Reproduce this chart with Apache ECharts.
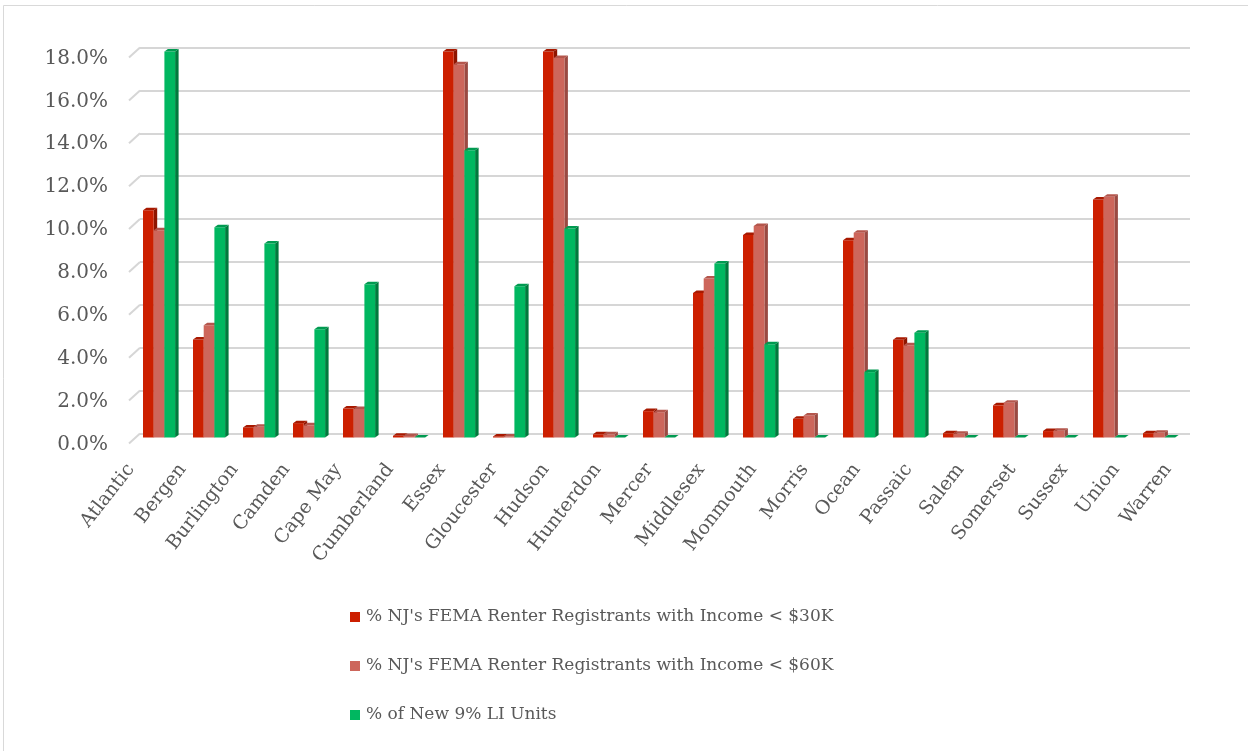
<!DOCTYPE html>
<html>
<head>
<meta charset="utf-8">
<script src="https://cdn.jsdelivr.net/npm/echarts@6/dist/echarts.min.js"></script>
<style>html,body{margin:0;padding:0;background:#fff;}#c{width:1248px;height:751px;}</style>
</head>
<body>
<div id="c"></div>
<script>
const categories = ['Atlantic','Bergen','Burlington','Camden','Cape May','Cumberland','Essex','Gloucester','Hudson','Hunterdon','Mercer','Middlesex','Monmouth','Morris','Ocean','Passaic','Salem','Somerset','Sussex','Union','Warren'];
const seriesNames = ["% NJ's FEMA Renter Registrants with Income < $30K", "% NJ's FEMA Renter Registrants with Income < $60K", "% of New 9% LI Units"];
const income30 = [10.6, 4.57, 0.47, 0.67, 1.35, 0.08, 18.0, 0.05, 18.0, 0.15, 1.23, 6.74, 9.44, 0.87, 9.2, 4.56, 0.2, 1.5, 0.3, 11.1, 0.2];
const income60 = [9.67, 5.23, 0.5, 0.57, 1.33, 0.07, 17.4, 0.05, 17.7, 0.15, 1.18, 7.41, 9.86, 1.03, 9.55, 4.3, 0.17, 1.62, 0.32, 11.23, 0.22];
const newUnits = [18.0, 9.8, 9.05, 5.05, 7.15, 0, 13.4, 7.05, 9.75, 0, 0, 8.11, 4.35, 0, 3.05, 4.89, 0, 0, 0, 0, 0];
const yTicks = [0, 2, 4, 6, 8, 10, 12, 14, 16, 18];

const FONT = 'DejaVu Serif';
const TXT = '#595959';
const palettes = [
  {front:'#CC1F00', side:'#8E1500', top:'#A81900'},
  {front:'#CD665B', side:'#9A4A42', top:'#B4564C'},
  {front:'#00B760', side:'#007A3D', top:'#009A50'}
];

function makeRender(idx) {
  const p = palettes[idx];
  return function (params, api) {
    const cat = api.value(0), v = api.value(1);
    const c = api.coord([cat, v]);
    const b = api.coord([cat, 0]);
    const bw = api.size([1, 0])[0];
    const barW = bw * 0.214;
    const x = c[0] - bw * 0.44 + idx * barW;
    const shift = 4;
    const top = c[1] + shift, bot = b[1] + shift;
    const dx = 3.5, dy = 2.5;
    return {
      type: 'group',
      children: [
        {type: 'polygon', shape: {points: [[x + barW, top], [x + barW + dx, top - dy], [x + barW + dx, bot - dy], [x + barW, bot]]}, style: {fill: p.side}},
        {type: 'rect', shape: {x: x, y: top, width: barW, height: bot - top}, style: {fill: p.front}},
        {type: 'polygon', shape: {points: [[x, top], [x + dx, top - dy], [x + barW + dx, top - dy], [x + barW, top]]}, style: {fill: p.top}}
      ]
    };
  };
}

const series = [income30, income60, newUnits].map((arr, i) => ({
  type: 'custom',
  name: seriesNames[i],
  renderItem: makeRender(i),
  itemStyle: {color: palettes[i].front},
  encode: {x: 0, y: 1},
  xAxisIndex: 0, yAxisIndex: 0,
  data: arr.map((v, k) => [k, v]),
  z: 3
}));

// perspective stubs at the left of each gridline
series.push({
  type: 'custom',
  name: 'stubs',
  silent: true,
  xAxisIndex: 0, yAxisIndex: 0,
  renderItem: function (params, api) {
    const cs = params.coordSys;
    const y = api.coord([0, api.value(1)])[1];
    return {type: 'line', shape: {x1: cs.x - 11, y1: y + 10, x2: cs.x, y2: y}, style: {stroke: '#d6d6d6', lineWidth: 2}};
  },
  encode: {x: 0, y: 1},
  data: yTicks.map(t => [0, t]),
  z: 1
});

const chart = echarts.init(document.getElementById('c'));
chart.setOption({
  animation: false,
  backgroundColor: '#fff',
  graphic: [{type: 'rect', shape: {x: 3.5, y: 5.5, width: 1300, height: 800}, style: {fill: 'none', stroke: '#d9d9d9', lineWidth: 1}, silent: true, z: -1}],
  grid: [
    {left: 140, right: 58, top: 47.5, height: 386, containLabel: false},
    {left: 132, right: 27, top: 47.5, height: 378, containLabel: false}
  ],
  legend: {
    data: seriesNames,
    orient: 'vertical',
    left: 345, top: 602,
    icon: 'rect', itemWidth: 10, itemHeight: 10, itemGap: 29,
    textStyle: {fontFamily: FONT, fontSize: 17, color: TXT, lineHeight: 20, padding: [0, 0, 0, 1]}
  },
  xAxis: [
    {
      type: 'category', gridIndex: 0,
      data: categories,
      axisLine: {show: false}, axisTick: {show: false}, axisLabel: {show: false}
    },
    {
      type: 'category', gridIndex: 1,
      data: categories,
      axisLine: {show: false}, axisTick: {show: false}, splitLine: {show: false},
      axisLabel: {interval: 0, rotate: 52, margin: 6, fontFamily: FONT, fontSize: 19, color: TXT, padding: [0, 44, 0, 0]}
    }
  ],
  yAxis: [
    {
      type: 'value', gridIndex: 0, min: 0, max: 18, interval: 2,
      axisLine: {show: false}, axisTick: {show: false},
      splitLine: {lineStyle: {color: '#d6d6d6', width: 2}},
      axisLabel: {margin: 32, fontFamily: FONT, fontSize: 20, color: TXT, verticalAlign: 'top', padding: [1, 0, 0, 0], formatter: v => v.toFixed(1) + '%'}
    },
    {
      type: 'value', gridIndex: 1, min: 0, max: 18, show: false
    }
  ],
  series: series
});
</script>
</body>
</html>
